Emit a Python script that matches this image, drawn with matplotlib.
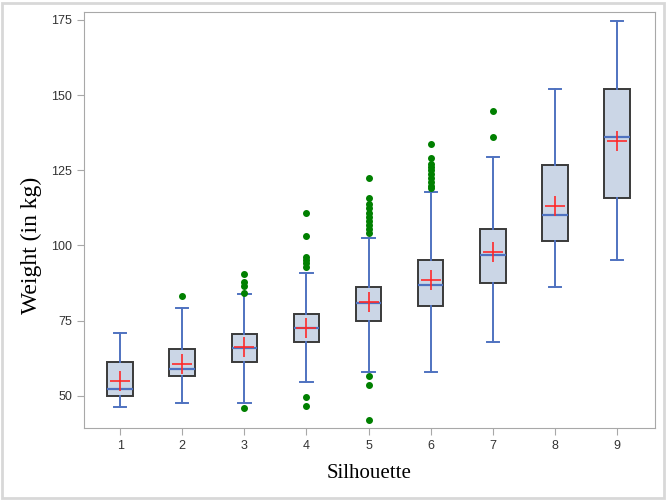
import matplotlib.pyplot as plt
import matplotlib.patches as mpatches

# box statistics (weight in kg per silhouette group)
groups = [1, 2, 3, 4, 5, 6, 7, 8, 9]
whislo = [46.3, 47.5, 47.5, 54.5, 58.0, 58.0, 67.9, 86.3, 95.2]
q1 = [49.9, 56.6, 61.1, 67.9, 74.8, 79.9, 87.4, 101.5, 115.8]
med = [52.1, 58.9, 65.8, 72.4, 80.8, 86.9, 96.7, 110.1, 136.1]
q3 = [61.3, 65.7, 70.4, 77.1, 86.2, 95.3, 105.6, 126.9, 151.95]
whishi = [70.8, 79.3, 83.7, 90.8, 102.6, 117.9, 129.3, 152.0, 174.8]
means = [55.0, 60.6, 66.3, 72.6, 81.1, 88.5, 97.7, 113.1, 134.75]
outliers = [
    [],
    [83.3],
    [90.5, 87.9, 86.6, 84.1, 46.0],
    [110.9, 103.2, 96.3, 95.2, 94.1, 92.7, 49.6, 46.5],
    [122.3, 115.9, 113.7, 112.4, 110.9, 109.6, 108.1, 106.8, 105.5, 104.2,
     56.6, 53.7, 41.9],
    [133.6, 129.2, 127.0, 126.0, 125.0, 123.7, 122.5, 121.2, 119.9, 119.0],
    [144.6, 136.0],
    [],
    [],
]

stats = []
for i in range(len(groups)):
    stats.append({'whislo': whislo[i], 'q1': q1[i], 'med': med[i], 'q3': q3[i],
                  'whishi': whishi[i], 'mean': means[i], 'fliers': outliers[i]})

blue = '#4f72c0'
fig = plt.figure(figsize=(6.67, 5), dpi=100)
ax = fig.add_axes([0.126, 0.144, 0.856, 0.832])

ax.bxp(stats, positions=groups, widths=0.41, showmeans=True, patch_artist=True,
       boxprops=dict(facecolor='#cbd6e6', edgecolor='#3a3a3a', linewidth=1.4),
       medianprops=dict(color=blue, linewidth=1.6),
       whiskerprops=dict(color=blue, linewidth=1.4),
       capprops=dict(color=blue, linewidth=1.4),
       capwidths=0.2,
       meanprops=dict(marker='+', markeredgecolor='#ff2a2a', markersize=14,
                      markeredgewidth=1.2),
       flierprops=dict(marker='o', markerfacecolor='#008000',
                       markeredgecolor='#008000', markersize=4))

ax.set_xlim(0.42, 9.61)
ax.set_ylim(39.25, 177.66)
ax.set_yticks([50, 75, 100, 125, 150, 175])
ax.set_xticks(groups)
ax.set_xticklabels([str(g) for g in groups])

for s in ax.spines.values():
    s.set_color('#a8a8a8')
ax.tick_params(colors='#a8a8a8', labelcolor='#333333', length=5, labelsize=9)
for lab in ax.get_xticklabels() + ax.get_yticklabels():
    lab.set_family('Liberation Sans')

ax.set_xlabel('Silhouette', family='Liberation Serif', fontsize=15, labelpad=9)
ax.set_ylabel('Weight (in kg)', family='Liberation Serif', fontsize=17, va='center')
ax.yaxis.set_label_coords(-0.093, 0.44)

# light outer frame of the image
fig.patches.append(mpatches.Rectangle((0.003, 0.005), 0.992, 0.99,
                                      transform=fig.transFigure, fill=False,
                                      edgecolor='#d8d8d8', linewidth=2))

fig.savefig('out.png', dpi=100)
